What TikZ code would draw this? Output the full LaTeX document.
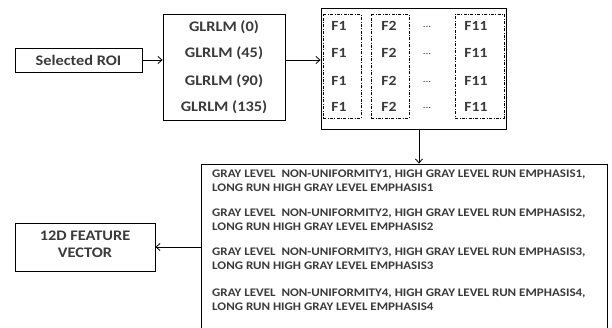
\documentclass[tikz,border=0pt]{standalone}
\usepackage{fontspec}
\setmainfont{Carlito}[FakeStretch=1.12]
\usetikzlibrary{arrows.meta}
\definecolor{txt}{HTML}{3A3A3A}
\tikzset{
  box/.style={draw=black, line width=0.9pt, inner sep=0pt},
  colbox/.style={draw=black, line width=0.7pt, dash pattern=on 3pt off 1.5pt on 0.8pt off 1.5pt, inner sep=0pt},
  lbl/.style={text=txt, font=\bfseries\fontsize{14.6}{16}\selectfont, inner sep=0pt},
  flbl/.style={text=txt, font=\bfseries\fontsize{14}{16}\selectfont, inner sep=0pt},
  small/.style={text=txt, font=\bfseries\fontsize{11.6}{14}\selectfont, inner sep=0pt, align=left, anchor=north west},
  conn/.style={draw=black, line width=0.8pt, -{Straight Barb[length=4pt,width=7pt]}},
}
\begin{document}
\begin{tikzpicture}[x=1pt,y=-1pt]
\useasboundingbox (0,0) rectangle (612,327);
\clip (0,0) rectangle (612,327);

% input
\node[box, minimum width=127pt, minimum height=24pt] (roi) at (78.5,60) {};
\node[lbl] (roitext) at (78.5,60) {Selected ROI};

% run-length matrices at four angles
\node[box, minimum width=122pt, minimum height=106pt] (glrlm) at (224,67) {};
\node[lbl] (g0)   at (224,27)  {GLRLM (0)};
\node[lbl] (g45)  at (224,53)  {GLRLM (45)};
\node[lbl] (g90)  at (224,81)  {GLRLM (90)};
\node[lbl] (g135) at (224,107) {GLRLM (135)};

% feature table
\node[box, minimum width=185pt, minimum height=121pt] (fbox) at (413.5,68.5) {};
\node[colbox, minimum width=38pt, minimum height=104pt] (c1) at (342,66) {};
\node[colbox, minimum width=38pt, minimum height=104pt] (c2) at (390,66) {};
\node[colbox, minimum width=49pt, minimum height=104pt] (c3) at (479.5,66) {};
\foreach \y [count=\i] in {26,53,81,107} {
  \node[flbl] (fa\i) at (339,\y) {F1};
  \node[flbl] (fb\i) at (389,\y) {F2};
  \node[text=txt, font=\fontsize{10}{11}\selectfont, inner sep=0pt] (fd\i) at (427,\y+1) {...};
  \node[flbl] (fc\i) at (476,\y) {F11};
}

% selected features
\node[box, minimum width=406pt, minimum height=166pt] (big) at (404,247) {};
\node[small] (s1) at (212,169.5) {GRAY LEVEL \ NON-UNIFORMITY1, HIGH GRAY LEVEL RUN EMPHASIS1,\\LONG RUN HIGH GRAY LEVEL EMPHASIS1};
\node[small] (s2) at (212,208.5) {GRAY LEVEL \ NON-UNIFORMITY2, HIGH GRAY LEVEL RUN EMPHASIS2,\\LONG RUN HIGH GRAY LEVEL EMPHASIS2};
\node[small] (s3) at (212,247.5) {GRAY LEVEL \ NON-UNIFORMITY3, HIGH GRAY LEVEL RUN EMPHASIS3,\\LONG RUN HIGH GRAY LEVEL EMPHASIS3};
\node[small] (s4) at (212,288.5) {GRAY LEVEL \ NON-UNIFORMITY4, HIGH GRAY LEVEL RUN EMPHASIS4,\\LONG RUN HIGH GRAY LEVEL EMPHASIS4};

% output
\node[box, minimum width=140pt, minimum height=48pt] (vec) at (85,247) {};
\node[lbl, align=center, font=\bfseries\fontsize{14.6}{17}\selectfont] (vectext) at (85,244) {12D FEATURE\\VECTOR};

% connectors
\draw[conn] (roi.east) -- (roi.east -| glrlm.west);
\draw[conn] (glrlm.east |- roi.east) -- (fbox.west |- roi.east);
\draw[conn] ([xshift=5.5pt]fbox.south) -- ([xshift=5.5pt]fbox.south |- big.north);
\draw[conn] (big.west) -- (vec.east |- big.west);
\end{tikzpicture}
\end{document}
